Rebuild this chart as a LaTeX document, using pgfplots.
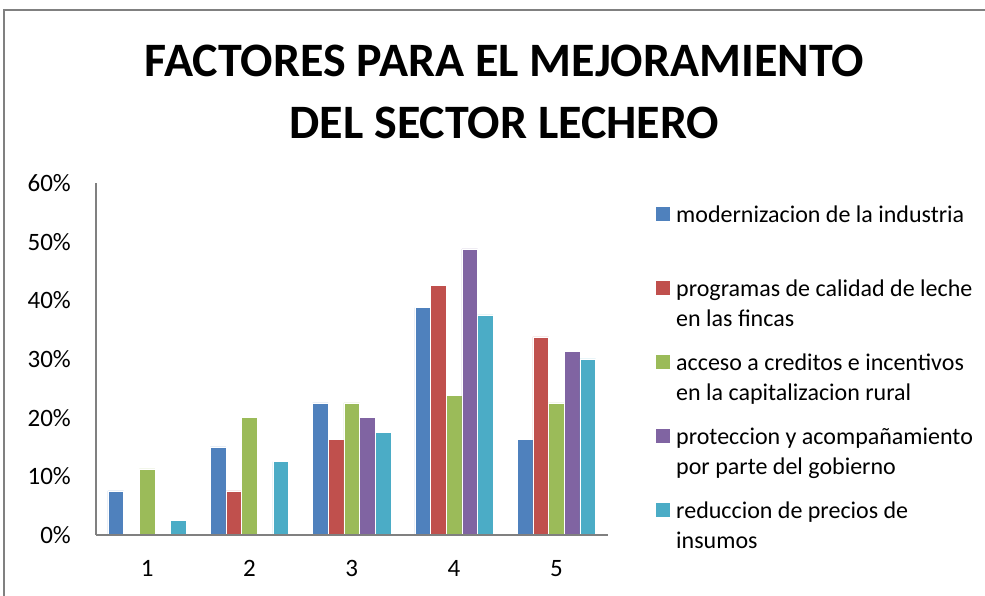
\documentclass[border=0pt]{standalone}
\usepackage{pgfplots}
\pgfplotsset{compat=1.18}
\usepackage{fontspec}
\setmainfont{Carlito}
\definecolor{cBlue}{HTML}{4F81BD}
\definecolor{cRed}{HTML}{C0504D}
\definecolor{cGreen}{HTML}{9BBB59}
\definecolor{cPurple}{HTML}{8064A2}
\definecolor{cCyan}{HTML}{4BACC6}
\definecolor{axgray}{RGB}{128,128,128}
\newcommand{\LE}[2]{\parbox[c][59pt][t]{310pt}{\strut #1\\\strut #2}}
\pgfplotsset{
  mylegend/.style={legend image code/.code={\fill[##1,draw=none] (0pt,10.5pt) rectangle (14pt,24.5pt); \path (20pt,0pt);}},
}
\begin{document}
\begin{tikzpicture}[x=1pt,y=1pt]
\useasboundingbox (0,0) rectangle (985,596);
\draw[axgray,line width=1.5pt] (4,0) -- (4,586) -- (985,586);
\node[font=\fontsize{48}{62}\selectfont\bfseries,align=center] at (504.5,504.5) {FACTORES PARA EL MEJORAMIENTO\\DEL SECTOR LECHERO};
\begin{axis}[
  at={(96pt,61pt)}, anchor=south west,
  scale only axis, width=511.5pt, height=352pt,
  xmin=0.5, xmax=5.5, ymin=0, ymax=60,
  ybar=0pt, bar width=15.67pt,
  axis on top,
  axis x line*=bottom, axis y line*=left,
  axis line style={axgray,line width=1.6pt,-},
  major tick length=0pt,
  xtick={1,2,3,4,5}, xticklabels={1,2,3,4,5},
  ytick={0,10,20,30,40,50,60},
  yticklabels={0\%,10\%,20\%,30\%,40\%,50\%,60\%},
  tick label style={font=\fontsize{25}{30}\selectfont, inner sep=0pt},
  yticklabel style={xshift=-25pt},
  xticklabel style={yshift=-25pt},
  legend style={at={(axis description cs:1.0948,0.94602)}, anchor=north west,
    draw=none, fill=none, inner xsep=0pt, inner ysep=0pt, outer sep=0pt,
    row sep=15pt, column sep=0pt,
    font=\fontsize{24}{29.5}\selectfont,
    nodes={inner sep=0pt, text depth=, text height=},
    cells={anchor=west}},
  legend cell align=left,
]
\addplot[fill=cBlue, draw=white, line width=0.5pt, mylegend] coordinates {(1,7.5) (2,15) (3,22.5) (4,38.75) (5,16.25)};
\addlegendentry{\LE{modernizacion de la industria}{}}
\addplot[fill=cRed, draw=white, line width=0.5pt, mylegend] coordinates {(2,7.5) (3,16.25) (4,42.5) (5,33.75)};
\addlegendentry{\LE{programas de calidad de leche}{en las fincas}}
\addplot[fill=cGreen, draw=white, line width=0.5pt, mylegend] coordinates {(1,11.25) (2,20) (3,22.5) (4,23.75) (5,22.5)};
\addlegendentry{\LE{acceso a creditos e incentivos}{en la capitalizacion rural}}
\addplot[fill=cPurple, draw=white, line width=0.5pt, mylegend] coordinates {(3,20) (4,48.75) (5,31.25)};
\addlegendentry{\LE{proteccion y acompañamiento}{por parte del gobierno}}
\addplot[fill=cCyan, draw=white, line width=0.5pt, mylegend] coordinates {(1,2.5) (2,12.5) (3,17.5) (4,37.5) (5,30)};
\addlegendentry{\LE{reduccion de precios de}{insumos}}
\end{axis}
\end{tikzpicture}
\end{document}
